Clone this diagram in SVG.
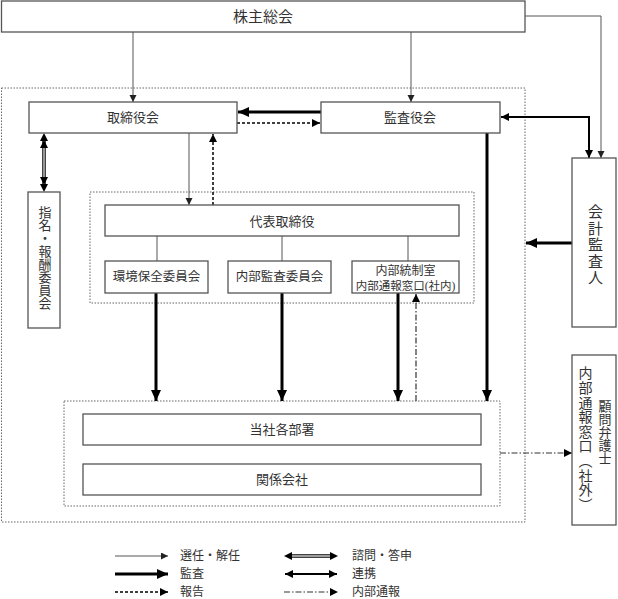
<svg xmlns="http://www.w3.org/2000/svg" width="618" height="599" viewBox="0 0 618 599">
<defs>
<style>
.box{fill:#fff;stroke:#555;stroke-width:1.3}
.grp{fill:none;stroke:#666;stroke-width:1;stroke-dasharray:1.5 1.5}
.t{font-family:"Liberation Serif","Noto Sans CJK JP",serif;fill:#333;text-anchor:middle}
.tl{font-family:"Liberation Serif","Noto Sans CJK JP",serif;fill:#333;font-size:12px}
.v{font-family:"Liberation Serif","Noto Sans CJK JP",serif;fill:#333;writing-mode:vertical-rl;text-orientation:upright}
.sel{fill:none;stroke:#555;stroke-width:1}
.aud{fill:none;stroke:#000;stroke-width:3}
.rep{fill:none;stroke:#000;stroke-width:1.5;stroke-dasharray:3 2}
.coop{fill:none;stroke:#000;stroke-width:2}
.whs{fill:none;stroke:#333;stroke-width:1.2;stroke-dasharray:6 2 1.5 2}
.consO{fill:none;stroke:#444;stroke-width:4}
.consI{fill:none;stroke:#bbb;stroke-width:1.4}
</style>
<marker id="aSel" markerUnits="userSpaceOnUse" markerWidth="8" markerHeight="8" refX="7" refY="3.5" orient="auto"><path d="M0,0 L7,3.5 L0,7 z" fill="#222"/></marker>
<marker id="aAud" markerUnits="userSpaceOnUse" markerWidth="12" markerHeight="12" refX="11" refY="5" orient="auto"><path d="M0,0 L11,5 L0,10 z" fill="#000"/></marker>
<marker id="aMid" markerUnits="userSpaceOnUse" markerWidth="10" markerHeight="10" refX="8" refY="4" orient="auto-start-reverse"><path d="M0,0 L8,4 L0,8 z" fill="#000"/></marker>
</defs>

<g id="groups">
<rect class="grp" x="1.5" y="88" width="523.5" height="434"/>
<rect class="grp" x="90" y="192" width="384" height="111"/>
<rect class="grp" x="64" y="401" width="436" height="105"/>
</g>

<g id="connectors">
<!-- 選任・解任 -->
<line class="sel" x1="133" y1="32" x2="133" y2="102" marker-end="url(#aSel)"/>
<line class="sel" x1="411" y1="32" x2="411" y2="102" marker-end="url(#aSel)"/>
<polyline class="sel" points="525,16 601,16 601,158" marker-end="url(#aSel)"/>
<line class="sel" x1="189" y1="133" x2="189" y2="205" marker-end="url(#aSel)"/>
<line class="sel" x1="157" y1="236" x2="157" y2="261"/>
<line class="sel" x1="282" y1="236" x2="282" y2="261"/>
<line class="sel" x1="408" y1="236" x2="408" y2="261"/>
<!-- 監査 -->
<line class="aud" x1="321" y1="112" x2="238" y2="112" marker-end="url(#aAud)"/>
<line class="aud" x1="572" y1="243" x2="526" y2="243" marker-end="url(#aAud)"/>
<line class="aud" x1="487" y1="133" x2="487" y2="401" marker-end="url(#aAud)"/>
<line class="aud" x1="156" y1="293" x2="156" y2="401" marker-end="url(#aAud)"/>
<line class="aud" x1="282" y1="293" x2="282" y2="401" marker-end="url(#aAud)"/>
<line class="aud" x1="398" y1="293" x2="398" y2="401" marker-end="url(#aAud)"/>
<!-- 報告 -->
<line class="rep" x1="237" y1="123" x2="320" y2="123" marker-end="url(#aMid)"/>
<line class="rep" x1="213" y1="205" x2="213" y2="134" marker-end="url(#aMid)"/>
<!-- 連携 -->
<polyline class="coop" points="501,117 589,117 589,158" marker-start="url(#aMid)" marker-end="url(#aMid)"/>
<!-- 諮問・答申 -->
<line class="consO" x1="44" y1="141" x2="44" y2="184"/>
<line class="consI" x1="44" y1="141" x2="44" y2="184"/>
<line x1="44" y1="140" x2="44" y2="185" stroke="none" marker-start="url(#aMid)" marker-end="url(#aMid)"/>
<path d="M44,133 L40,141 L48,141 z M44,192 L40,184 L48,184 z" fill="#000"/>
<!-- 内部通報 -->
<line class="whs" x1="416" y1="401" x2="416" y2="294" marker-end="url(#aMid)"/>
<line class="whs" x1="500" y1="453" x2="572" y2="453" marker-end="url(#aMid)"/>
</g>

<g id="n-shareholders"><rect class="box" x="1.5" y="1" width="523.5" height="31"/><text class="t" x="263" y="22" font-size="15">株主総会</text></g>
<g id="n-board"><rect class="box" x="29" y="102" width="208" height="31"/><text class="t" x="133" y="122" font-size="13">取締役会</text></g>
<g id="n-auditors"><rect class="box" x="321" y="102" width="179" height="31"/><text class="t" x="410" y="122" font-size="13">監査役会</text></g>
<g id="n-accounting"><rect class="box" x="572" y="158" width="44" height="169"/><text class="v" x="594" y="204" font-size="15" letter-spacing="1.5">会計監査人</text></g>
<g id="n-nomination"><rect class="box" x="28" y="192" width="32" height="136"/><text class="v" x="44" y="206" font-size="13">指名・報酬委員会</text></g>
<g id="n-ceo"><rect class="box" x="105" y="205" width="354" height="31"/><text class="t" x="282" y="226" font-size="13">代表取締役</text></g>
<g id="n-env"><rect class="box" x="105" y="261" width="103" height="32"/><text class="t" x="156.5" y="281" font-size="12.5">環境保全委員会</text></g>
<g id="n-internal-audit"><rect class="box" x="228" y="261" width="103" height="32"/><text class="t" x="279.5" y="281" font-size="12.5">内部監査委員会</text></g>
<g id="n-internal-control"><rect class="box" x="352" y="261" width="107" height="32"/><text class="t" x="405.5" y="275" font-size="12">内部統制室</text><text class="t" x="405.5" y="290" font-size="11.5">内部通報窓口(社内)</text></g>
<g id="n-depts"><rect class="box" x="83" y="414" width="398" height="31"/><text class="t" x="282" y="434" font-size="13">当社各部署</text></g>
<g id="n-affiliates"><rect class="box" x="83" y="464" width="398" height="31"/><text class="t" x="282" y="484" font-size="13">関係会社</text></g>
<g id="n-whistle-ext"><rect class="box" x="572" y="355" width="44" height="170"/><text class="v" x="584" y="366" font-size="14" letter-spacing="0.6">内部通報窓口（社外）</text><text class="v" x="604" y="400" font-size="13">顧問弁護士</text></g>

<g id="legend">
<line class="sel" x1="115" y1="556" x2="168" y2="556" marker-end="url(#aSel)"/>
<text class="tl" x="180" y="560">選任・解任</text>
<line class="aud" x1="115" y1="574" x2="168" y2="574" marker-end="url(#aAud)"/>
<text class="tl" x="180" y="578">監査</text>
<line class="rep" x1="115" y1="592" x2="168" y2="592" marker-end="url(#aMid)"/>
<text class="tl" x="180" y="596">報告</text>
<line class="consO" x1="291" y1="556" x2="331" y2="556"/>
<line class="consI" x1="291" y1="556" x2="331" y2="556"/>
<path d="M284,556 L292,552 L292,560 z M338,556 L330,552 L330,560 z" fill="#000"/>
<text class="tl" x="352" y="560">諮問・答申</text>
<line class="coop" x1="285" y1="574" x2="337" y2="574" stroke-width="1.5" marker-start="url(#aMid)" marker-end="url(#aMid)"/>
<text class="tl" x="352" y="578">連携</text>
<line class="whs" x1="284" y1="592" x2="338" y2="592" marker-end="url(#aMid)"/>
<text class="tl" x="352" y="596">内部通報</text>
</g>
</svg>
